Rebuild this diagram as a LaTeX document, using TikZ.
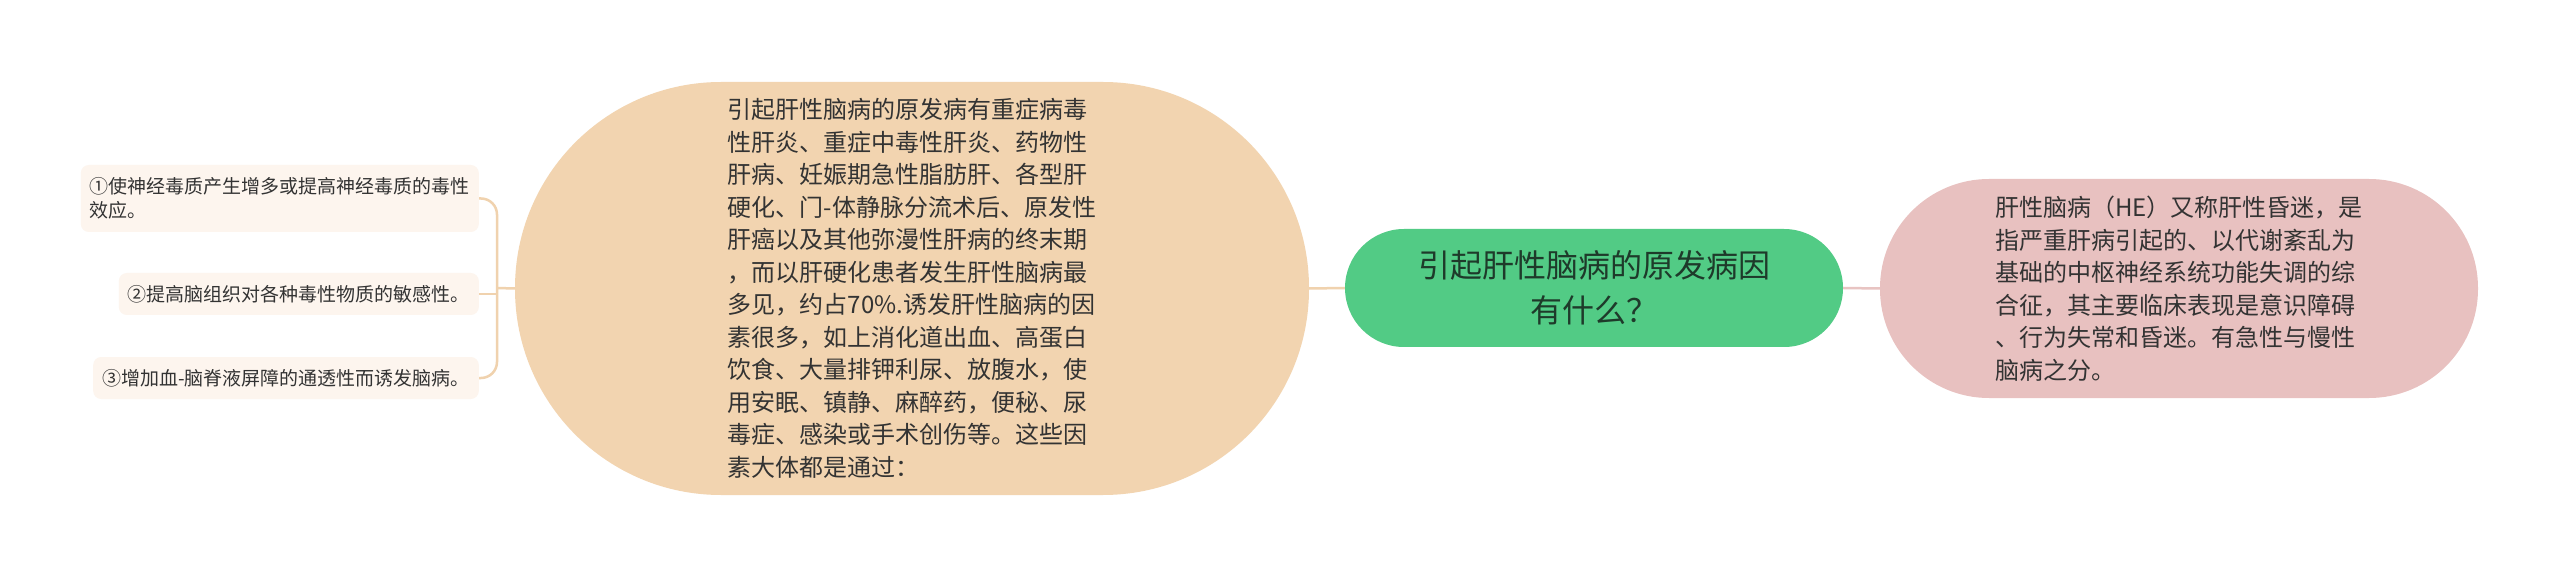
\documentclass[tikz,border=0pt]{standalone}
\usepackage{fontspec}
\newfontfamily\cjk{Noto Sans CJK SC}
\definecolor{peachfill}{HTML}{F2D4B0}
\definecolor{pinkfill}{HTML}{E8C1C0}
\definecolor{greenfill}{HTML}{52CB85}
\definecolor{itemfill}{HTML}{FDF5EE}
\definecolor{peachline}{HTML}{F0D2AE}
\definecolor{pinkline}{HTML}{E8C4C2}
\definecolor{textdark}{HTML}{333333}
\definecolor{greentext}{HTML}{1E3A2A}
\tikzset{
  bigbox/.style={draw=none, rectangle, inner sep=0pt, align=left, text=textdark,
    font=\cjk\fontsize{24pt}{32.5pt}\selectfont},
  itembox/.style={draw=none, fill=itemfill, rectangle, rounded corners=8pt,
    inner xsep=9pt, inner ysep=0pt, align=left, text=textdark, anchor=east,
    font=\cjk\fontsize{19pt}{24pt}\selectfont},
  conn/.style={draw=peachline, line width=2.5pt},
  pconn/.style={draw=pinkline, line width=2.5pt},
}
\begin{document}
\begin{tikzpicture}[x=1pt,y=-1pt]
\useasboundingbox[fill=white] (0,0) rectangle (2560,577);

\node[bigbox, fill=peachfill, rounded corners=206pt, minimum width=794pt, minimum height=413pt] (peach) at (912,288.5)
{引起肝性脑病的原发病有重症病毒\\
性肝炎、重症中毒性肝炎、药物性\\
肝病、妊娠期急性脂肪肝、各型肝\\
硬化、门-体静脉分流术后、原发性\\
肝癌以及其他弥漫性肝病的终末期\\
，而以肝硬化患者发生肝性脑病最\\
多见，约占70\%.诱发肝性脑病的因\\
素很多，如上消化道出血、高蛋白\\
饮食、大量排钾利尿、放腹水，使\\
用安眠、镇静、麻醉药，便秘、尿\\
毒症、感染或手术创伤等。这些因\\
素大体都是通过：};

\node[rectangle, fill=greenfill, rounded corners=59pt, minimum width=498pt, minimum height=118pt,
  inner sep=0pt, align=center, text=greentext, font=\cjk\fontsize{32pt}{45pt}\selectfont] (green) at (1594,288)
{引起肝性脑病的原发病因\\有什么？};

\node[bigbox, fill=pinkfill, rounded corners=109pt, minimum width=598pt, minimum height=219pt] (pink) at (2179,288.5)
{肝性脑病（HE）又称肝性昏迷，是\\
指严重肝病引起的、以代谢紊乱为\\
基础的中枢神经系统功能失调的综\\
合征，其主要临床表现是意识障碍\\
、行为失常和昏迷。有急性与慢性\\
脑病之分。};

\node[itembox, minimum height=67pt] (item1) at (479,198.5)
{①使神经毒质产生增多或提高神经毒质的毒性\\效应。};
\node[itembox, minimum height=42pt] (item2) at (479,294)
{②提高脑组织对各种毒性物质的敏感性。};
\node[itembox, minimum height=42pt] (item3) at (479,378)
{③增加血-脑脊液屏障的通透性而诱发脑病。};

\coordinate (bx) at (497,288);
\draw[conn, rounded corners=16pt] (item1.east) -| (bx) |- (item3.east);
\draw[conn] (item2.east) -- (item2.east -| bx);
\draw[conn] (bx) -- (peach.west);
\draw[conn] (peach.east) -- (green.west);
\draw[pconn] (green.east) -- (pink.west);
\end{tikzpicture}
\end{document}
